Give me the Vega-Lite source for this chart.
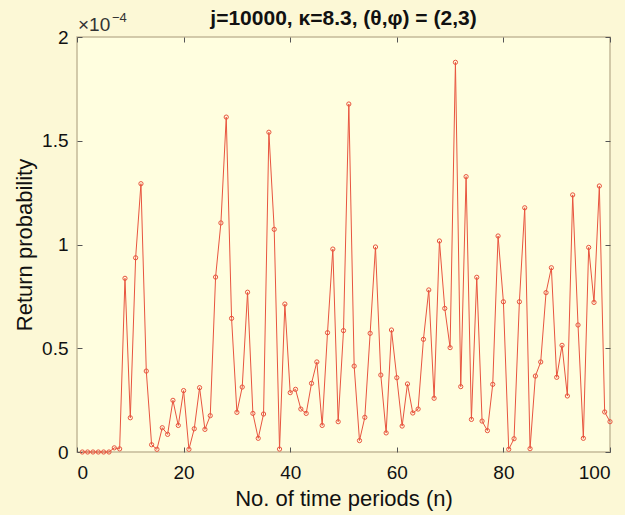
{
  "$schema": "https://vega.github.io/schema/vega-lite/v6.json",
  "width": 533,
  "height": 415,
  "autosize": "none",
  "padding": {"left": 77, "top": 37, "right": 15, "bottom": 63},
  "background": "#fcf8d6",
  "title": {"text": "j=10000, κ=8.3, (θ,φ) = (2,3)", "font": "Liberation Sans", "fontSize": 21, "fontWeight": "bold", "color": "#111111", "offset": 0, "dy": 17, "anchor": "middle", "frame": "group"},
  "config": {
    "view": {"fill": "#fffedf", "stroke": "#c4b999", "strokeWidth": 1.5},
    "axis": {"labelFont": "Liberation Sans", "titleFont": "Liberation Sans", "labelFontSize": 19, "titleFontSize": 22, "labelColor": "#111111", "titleColor": "#111111", "titleFontWeight": "normal", "grid": false, "domain": false, "tickColor": "#555555", "tickSize": -5, "tickWidth": 1}
  },
  "data": {"values": [
    {"n":1,"p":0},{"n":2,"p":0},{"n":3,"p":0},{"n":4,"p":0},{"n":5,"p":0},{"n":6,"p":0},
    {"n":7,"p":0.000002},{"n":8,"p":0.0000015},{"n":9,"p":0.0000837},{"n":10,"p":0.0000165},
    {"n":11,"p":0.0000936},{"n":12,"p":0.0001293},{"n":13,"p":0.000039},{"n":14,"p":0.0000035},
    {"n":15,"p":0.0000013},{"n":16,"p":0.0000117},{"n":17,"p":0.0000085},{"n":18,"p":0.0000249},
    {"n":19,"p":0.0000128},{"n":20,"p":0.0000296},{"n":21,"p":0.0000013},{"n":22,"p":0.0000112},
    {"n":23,"p":0.000031},{"n":24,"p":0.0000109},{"n":25,"p":0.0000175},{"n":26,"p":0.0000843},
    {"n":27,"p":0.0001104},{"n":28,"p":0.0001614},{"n":29,"p":0.0000644},{"n":30,"p":0.0000191},
    {"n":31,"p":0.0000313},{"n":32,"p":0.000077},{"n":33,"p":0.0000186},{"n":34,"p":0.0000066},
    {"n":35,"p":0.0000183},{"n":36,"p":0.0001541},{"n":37,"p":0.0001073},{"n":38,"p":0.0000014},
    {"n":39,"p":0.0000713},{"n":40,"p":0.0000286},{"n":41,"p":0.0000302},{"n":42,"p":0.0000207},
    {"n":43,"p":0.0000186},{"n":44,"p":0.0000331},{"n":45,"p":0.0000434},{"n":46,"p":0.0000128},
    {"n":47,"p":0.0000575},{"n":48,"p":0.0000978},{"n":49,"p":0.0000146},{"n":50,"p":0.0000585},
    {"n":51,"p":0.0001677},{"n":52,"p":0.0000414},{"n":53,"p":0.0000055},{"n":54,"p":0.0000167},
    {"n":55,"p":0.0000572},{"n":56,"p":0.0000988},{"n":57,"p":0.0000371},{"n":58,"p":0.0000092},
    {"n":59,"p":0.0000588},{"n":60,"p":0.0000358},{"n":61,"p":0.0000125},{"n":62,"p":0.0000328},
    {"n":63,"p":0.0000188},{"n":64,"p":0.0000207},{"n":65,"p":0.0000543},{"n":66,"p":0.0000781},
    {"n":67,"p":0.0000259},{"n":68,"p":0.0001017},{"n":69,"p":0.0000692},{"n":70,"p":0.0000503},
    {"n":71,"p":0.0001878},{"n":72,"p":0.0000315},{"n":73,"p":0.0001327},{"n":74,"p":0.0000157},
    {"n":75,"p":0.0000842},{"n":76,"p":0.0000149},{"n":77,"p":0.0000103},{"n":78,"p":0.0000326},
    {"n":79,"p":0.0001041},{"n":80,"p":0.0000724},{"n":81,"p":0.0000013},{"n":82,"p":0.0000064},
    {"n":83,"p":0.0000724},{"n":84,"p":0.0001177},{"n":85,"p":0.0000016},{"n":86,"p":0.0000366},
    {"n":87,"p":0.0000434},{"n":88,"p":0.0000768},{"n":89,"p":0.0000888},{"n":90,"p":0.000036},
    {"n":91,"p":0.0000514},{"n":92,"p":0.000027},{"n":93,"p":0.0001239},{"n":94,"p":0.0000612},
    {"n":95,"p":0.0000066},{"n":96,"p":0.0000986},{"n":97,"p":0.0000721},{"n":98,"p":0.0001282},
    {"n":99,"p":0.0000193},{"n":100,"p":0.0000146}
  ]},
  "layer": [
    {
      "mark": {"type": "line", "color": "#e8553f", "strokeWidth": 1, "point": {"filled": false, "color": "#e8553f", "size": 18, "strokeWidth": 1}},
      "encoding": {
        "x": {"field": "n", "type": "quantitative", "scale": {"domain": [0, 100], "nice": false, "zero": false},
              "axis": {"orient": "bottom", "values": [0, 20, 40, 60, 80, 100], "title": "No. of time periods (n)", "labelPadding": 16, "titlePadding": 6}},
        "y": {"field": "p", "type": "quantitative", "scale": {"domain": [0, 0.0002], "nice": false},
              "axis": {"orient": "left", "values": [0, 0.00005, 0.0001, 0.00015, 0.0002], "labelExpr": "format(datum.value*10000, '.1~f')", "title": "Return probability", "labelPadding": 14, "titlePadding": 5}}
      }
    },
    {
      "data": {"values": [{"n": 0, "p": 0.0002, "t": "×10"}]},
      "mark": {"type": "text", "align": "left", "baseline": "alphabetic", "dy": -6, "dx": 1, "font": "Liberation Sans", "fontSize": 19, "color": "#333333"},
      "encoding": {
        "x": {"field": "n", "type": "quantitative", "axis": {"orient": "top", "values": [0, 20, 40, 60, 80, 100], "labels": false, "title": null}},
        "y": {"field": "p", "type": "quantitative", "axis": {"orient": "right", "values": [0, 0.00005, 0.0001, 0.00015, 0.0002], "labels": false, "title": null}},
        "text": {"field": "t"}
      }
    },
    {
      "data": {"values": [{"n": 0, "p": 0.0002, "t": "−4"}]},
      "mark": {"type": "text", "align": "left", "baseline": "alphabetic", "dy": -15, "dx": 35, "font": "Liberation Sans", "fontSize": 13, "color": "#333333"},
      "encoding": {
        "x": {"field": "n", "type": "quantitative", "axis": null},
        "y": {"field": "p", "type": "quantitative", "axis": null},
        "text": {"field": "t"}
      }
    }
  ],
  "resolve": {"axis": {"x": "independent", "y": "independent"}}
}
